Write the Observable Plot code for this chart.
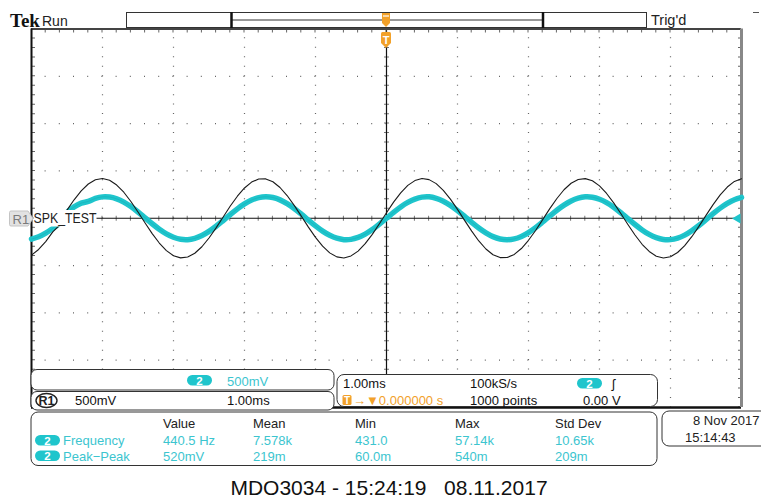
<!DOCTYPE html>
<html><head><meta charset="utf-8">
<script src="https://cdn.jsdelivr.net/npm/d3@7"></script>
<script src="https://cdn.jsdelivr.net/npm/@observablehq/plot@0.6"></script>
<style>body{margin:0;background:#fff}svg{display:block}</style>
</head><body><div id="chart"></div>
<script>
// sample times (ms), 0.1 ms apart, trigger at 0
const time = [-5.0,-4.9,-4.8,-4.7,-4.6,-4.5,-4.4,-4.3,-4.2,-4.1,-4.0,-3.9,-3.8,-3.7,-3.6,-3.5,-3.4,-3.3,-3.2,-3.1,-3.0,-2.9,-2.8,-2.7,-2.6,-2.5,-2.4,-2.3,-2.2,-2.1,-2.0,-1.9,-1.8,-1.7,-1.6,-1.5,-1.4,-1.3,-1.2,-1.1,-1.0,-0.9,-0.8,-0.7,-0.6,-0.5,-0.4,-0.3,-0.2,-0.1,0.0,0.1,0.2,0.3,0.4,0.5,0.6,0.7,0.8,0.9,1.0,1.1,1.2,1.3,1.4,1.5,1.6,1.7,1.8,1.9,2.0,2.1,2.2,2.3,2.4,2.5,2.6,2.7,2.8,2.9,3.0,3.1,3.2,3.3,3.4,3.5,3.6,3.7,3.8,3.9,4.0,4.1,4.2,4.3,4.4,4.5,4.6,4.7,4.8,4.9,5.0];
// channel 2 (V)
const ch2 = [-0.220,-0.196,-0.157,-0.107,-0.048,0.060,0.120,0.160,0.178,0.210,0.226,0.224,0.205,0.171,0.123,0.066,0.004,-0.058,-0.116,-0.165,-0.201,-0.222,-0.226,-0.213,-0.183,-0.139,-0.085,-0.024,0.039,0.099,0.151,0.192,0.218,0.227,0.219,0.194,0.154,0.103,0.043,-0.020,-0.081,-0.136,-0.180,-0.211,-0.226,-0.223,-0.203,-0.168,-0.120,-0.062,0.000,0.062,0.120,0.168,0.203,0.223,0.226,0.211,0.180,0.136,0.081,0.020,-0.043,-0.103,-0.154,-0.194,-0.219,-0.227,-0.218,-0.192,-0.151,-0.099,-0.039,0.024,0.085,0.139,0.183,0.213,0.226,0.222,0.201,0.165,0.116,0.058,-0.004,-0.066,-0.123,-0.171,-0.205,-0.224,-0.226,-0.210,-0.178,-0.132,-0.077,-0.015,0.048,0.107,0.157,0.196,0.220];
// reference R1 (V)
const r1 = [-0.389,-0.330,-0.247,-0.144,-0.070,0.086,0.195,0.290,0.362,0.406,0.420,0.401,0.351,0.275,0.177,0.066,-0.050,-0.162,-0.262,-0.342,-0.396,-0.419,-0.410,-0.370,-0.301,-0.209,-0.102,0.014,0.129,0.233,0.320,0.382,0.415,0.416,0.386,0.325,0.240,0.136,0.022,-0.094,-0.202,-0.295,-0.366,-0.408,-0.420,-0.398,-0.347,-0.269,-0.170,-0.058,0.058,0.170,0.269,0.347,0.398,0.420,0.408,0.366,0.295,0.202,0.094,-0.022,-0.136,-0.240,-0.325,-0.386,-0.416,-0.415,-0.382,-0.320,-0.233,-0.129,-0.014,0.102,0.209,0.301,0.370,0.410,0.419,0.396,0.342,0.262,0.162,0.050,-0.066,-0.177,-0.275,-0.351,-0.401,-0.420,-0.406,-0.362,-0.290,-0.195,-0.086,0.030,0.144,0.247,0.330,0.389,0.417];

const xDivs = [-4,-3,-2,-1,1,2,3,4];
const yDivs = [-1.5,-1,-0.5,0.5,1,1.5];
const measHeaders = ["Value","Mean","Min","Max","Std Dev"];
const measNames = ["Frequency","Peak\u2212Peak"];
const measValues = [["440.5 Hz","7.578k","431.0","57.14k","10.65k"],["520mV","219m","60.0m","540m","209m"]];

const CYAN = "#1fc5cc", CYANT = "#3cc5cf", ORANGE = "#f2a12a";
const ch2Rows = time.map((t,i)=>({t, v: ch2[i]}));
const r1Rows = time.map((t,i)=>({t, v: r1[i]}));

const minorX = "1,13.2", minorY = "1,8.4625";
const plot = Plot.plot({
  width: 761, height: 499,
  marginLeft: 31, marginRight: 20, marginTop: 28.5, marginBottom: 92,
  x: {domain: [-5, 5], axis: null},
  y: {domain: [-2, 2], axis: null},
  style: {background: "#fff"},
  marks: [
    Plot.ruleX(xDivs, {stroke: "#666", strokeWidth: 1.2, strokeDasharray: minorY, strokeDashoffset: 0.6}),
    Plot.ruleY(yDivs, {stroke: "#666", strokeWidth: 1.2, strokeDasharray: minorX, strokeDashoffset: 0.6}),
    // centre cross with minor ticks
    Plot.ruleY([0], {stroke: "#777", strokeWidth: 5, strokeDasharray: minorX, strokeDashoffset: 0.5}),
    Plot.ruleX([0], {stroke: "#777", strokeWidth: 5, strokeDasharray: minorY, strokeDashoffset: 0.5}),
    Plot.ruleY([0], {stroke: "#111", strokeWidth: 1.2}),
    Plot.ruleX([0], {stroke: "#111", strokeWidth: 1.2}),
    // border ticks
    Plot.ruleY([2], {stroke: "#666", strokeWidth: 3, dy: 2, strokeDasharray: minorX, strokeDashoffset: 0.5}),
    Plot.ruleX([-5], {stroke: "#666", strokeWidth: 3, dx: 2, strokeDasharray: minorY, strokeDashoffset: 0.5}),
    Plot.ruleX([5], {stroke: "#666", strokeWidth: 3, dx: -2, strokeDasharray: minorY, strokeDashoffset: 0.5}),
    // borders
    Plot.ruleY([2], {stroke: "#444", strokeWidth: 2}),
    Plot.ruleY([-2], {stroke: "#111", strokeWidth: 2.5}),
    Plot.ruleX([-5], {stroke: "#111", strokeWidth: 2}),
    Plot.ruleX([5], {stroke: "#888", strokeWidth: 3}),
    // traces
    Plot.line(ch2Rows, {x: "t", y: "v", stroke: CYAN, strokeWidth: 5.5, curve: "catmull-rom"}),
    Plot.line(ch2Rows, {x: "t", y: "v", stroke: "#13a9b2", strokeWidth: 1, strokeOpacity: 0.5, curve: "catmull-rom"}),
    Plot.line(r1Rows, {x: "t", y: "v", stroke: "#1a1a1a", strokeWidth: 1.1})
  ]
});
document.getElementById("chart").append(plot);

const svg = d3.select(plot);
const g = svg.append("g").attr("font-family", "'Liberation Sans', Arial, sans-serif");
function rect(x, y, w, h, rx, fill, stroke, sw) {
  return g.append("rect").attr("x", x).attr("y", y).attr("width", w).attr("height", h)
    .attr("rx", rx).attr("fill", fill).attr("stroke", stroke || "none").attr("stroke-width", sw || 1);
}
function line(x1, y1, x2, y2, stroke, sw) {
  return g.append("line").attr("x1", x1).attr("y1", y1).attr("x2", x2).attr("y2", y2)
    .attr("stroke", stroke).attr("stroke-width", sw);
}
function text(x, y, s, o = {}) {
  const t = g.append("text").attr("x", x).attr("y", y).text(s)
    .attr("font-size", o.size || 13).attr("fill", o.fill || "#111")
    .attr("text-anchor", o.anchor || "start").attr("font-weight", o.weight || "normal")
    .style("white-space", "pre");
  if (o.family) t.attr("font-family", o.family);
  if (o.len) t.attr("textLength", o.len).attr("lengthAdjust", "spacingAndGlyphs");
  return t;
}
function pill(x, y, label) {
  rect(x, y, 25, 10.5, 5.2, CYAN);
  text(x + 12.5, y + 9.6, label, {size: 11.5, fill: "#fff", anchor: "middle", weight: "bold"});
}

// header
text(10, 27, "Tek", {size: 19, weight: "bold", family: "'Liberation Serif', serif"});
text(42, 26, "Run", {size: 14, fill: "#222"});
text(651, 25, "Trig'd", {size: 14.5, fill: "#222"});
line(753, 12.5, 759, 12.5, "#555", 1);
rect(126.5, 12.5, 520, 15, 0, "#fff", "#333", 1);
line(231, 20, 543, 20, "#333", 1);
line(231.5, 12, 231.5, 28, "#111", 2.5);
line(543, 12, 543, 28, "#111", 2.5);
// trigger markers
g.append("path").attr("d", "M382,13 h8 v10 l-4,4 l-4,-4 z").attr("fill", ORANGE);
line(383, 16, 389, 16, "#fff", 1.2);
g.append("path").attr("d", "M381,33.5 q0,-1.5 1.5,-1.5 h7 q1.5,0 1.5,1.5 v9.5 l-5,5 l-5,-5 z").attr("fill", ORANGE);
text(386, 44, "T", {size: 11, fill: "#fff", anchor: "middle", weight: "bold"});

// R1 label
g.append("path").attr("d", "M11,211 h17 l5,7.5 l-5,7.5 h-17 q-1.5,0 -1.5,-1.5 v-12 q0,-1.5 1.5,-1.5 z")
  .attr("fill", "#e2e2e2").attr("stroke", "#c4c4c4");
text(12.5, 223.5, "R1", {size: 13, fill: "#7a7a7a"});
rect(33.5, 210, 63, 16.5, 0, "#fff");
text(33.5, 223, "SPK_TEST", {size: 14, fill: "#222", len: 63});
// ch2 level marker
g.append("path").attr("d", "M740.5,213.5 L732,218.5 L740.5,223.5 Z").attr("fill", CYAN);

// panel 1
rect(31, 369.5, 303, 20.5, 6, "#fff", "#333", 1);
pill(187, 375, "2");
text(227, 386, "500mV", {fill: CYANT});
// panel 2
rect(31, 391.5, 303, 18.5, 6, "#fff", "#333", 1);
g.append("ellipse").attr("cx", 46.5).attr("cy", 400.5).attr("rx", 10.5).attr("ry", 7)
  .attr("fill", "none").attr("stroke", "#222").attr("stroke-width", 1.4);
text(46.5, 405, "R1", {size: 12.5, anchor: "middle", weight: "bold", fill: "#222"});
text(75, 405, "500mV");
text(227, 405, "1.00ms");
// panel 3
rect(337, 374.5, 320.5, 32, 7, "#fff", "#333", 1);
text(343, 388, "1.00ms");
rect(342.5, 395, 9, 10, 1.5, ORANGE);
text(347, 404, "T", {size: 10, fill: "#fff", anchor: "middle", weight: "bold"});
text(353, 405, "\u2192\u25BC0.000000 s", {fill: ORANGE});
text(470, 388, "100kS/s");
text(470, 405, "1000 points");
pill(577, 378, "2");
text(612, 388, "\u0283", {size: 13});
text(583, 405, "0.00 V");
// panel 4 measurements
rect(31, 412, 626, 53.5, 7, "#fff", "#333", 1);
const colX = [163, 253, 355, 455, 555];
measHeaders.forEach((h, j) => text(colX[j], 427.5, h, {fill: "#222"}));
measNames.forEach((n, i) => {
  const y = 445 + i * 15.5;
  pill(35, y - 10, "2");
  text(63, y, n, {fill: CYANT});
  measValues[i].forEach((v, j) => text(colX[j], y, v, {fill: CYANT}));
});
// panel 5 date
rect(662, 411, 115, 35, 7, "#fff", "#333", 1);
text(693, 425, "8 Nov 2017", {fill: "#222"});
text(685, 441.5, "15:14:43", {fill: "#222"});
// footer
text(389, 495, "MDO3034 - 15:24:19   08.11.2017", {size: 21, anchor: "middle", fill: "#111"});
</script></body></html>
